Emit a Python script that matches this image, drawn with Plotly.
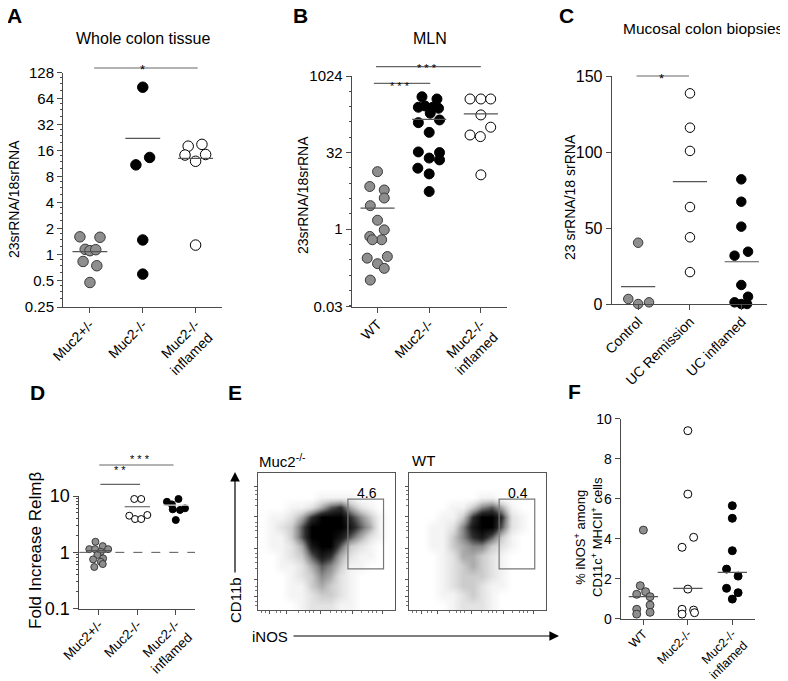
import math
import plotly.graph_objects as go

# ---------------- data ----------------
# Panel A  (Whole colon tissue, 23srRNA/18srRNA)
A_cats = ["Muc2+/-", "Muc2-/-", "Muc2-/-<br>inflamed"]
A_het = [1.62, 1.60, 1.16, 1.12, 1.15, 0.84, 0.75, 0.48]
A_ko = [87, 11, 13.4, 1.49, 0.60]
A_inf = [18.1, 19.0, 14.3, 14.5, 12.1, 1.3]
A_lines = [1.09, 22.3, 13.1]

# Panel B  (MLN)
B_cats = ["WT", "Muc2-/-", "Muc2-/-<br>inflamed"]
B_wt = [13.5, 6.9, 5.9, 4.1, 2.9, 1.5, 0.97, 0.72, 0.62, 0.62, 0.27, 0.29, 0.21, 0.17, 0.10]
B_ko = [400, 362, 249, 264, 249, 238, 190, 124, 140, 80, 33, 32, 25, 23, 15.8, 12.2, 5.5]
B_inf = [362, 362, 362, 176, 101, 71, 66, 11.7]
B_lines = [2.6, 144, 184]

# Panel C  (Mucosal colon biopsies)
C_cats = ["Control", "UC Remission", "UC inflamed"]
C_ctrl = [40.3, 3.3, 0.0, 1.1]
C_rem = [138.6, 116, 100.7, 63.8, 43.9, 21]
C_inf = [82, 67.3, 50.9, 31.8, 34.4, 12.5, 1.1, 4.8, 0.0, 0.0]
C_lines = [11.4, 80.5, 27.8]

# Panel D  (Fold increase Relm beta)
D_cats = ["Muc2+/-", "Muc2-/-", "Muc2-/-<br>inflamed"]
D_het = [1.54, 1.29, 1.14, 1.14, 1.14, 1.02, 0.90, 0.78, 0.75, 0.68, 0.55, 0.62]
D_ko = [8.85, 8.85, 4.47, 3.9, 3.9, 4.6]
D_inf = [10.4, 7.9, 8.85, 7.1, 6.05, 5.8, 5.65, 3.75]
D_lines = [1.07, 6.45, 6.9]

# Panel F  (% iNOS+ among CD11c+ MHCII+ cells)
F_cats = ["WT", "Muc2-/-", "Muc2-/-<br>inflamed"]
F_wt = [4.43, 1.65, 1.22, 1.35, 1.10, 0.68, 0.47, 0.23, 0.32]
F_ko = [9.4, 6.23, 4.07, 3.57, 1.48, 0.47, 0.23, 0.43, 0.30]
F_inf = [5.65, 5.02, 3.4, 2.48, 2.13, 1.52, 1.30, 0.98]
F_lines = [1.10, 1.52, 2.32]

# Panel E  flow density (rows top -> bottom, columns iNOS low -> high), 0..9
E_muc2_density = [
    [0, 0, 0, 0, 0, 0, 0, 0, 0, 0, 0, 0, 0, 0],
    [0, 0, 0, 0, 0, 0, 0, 0, 0, 0, 0, 0, 0, 0],
    [0, 0, 0, 0, 0, 0, 1, 1, 1, 1, 0, 0, 0, 0],
    [0, 0, 0, 1, 1, 2, 4, 6, 7, 4, 2, 1, 0, 0],
    [0, 1, 1, 2, 4, 7, 9, 9, 9, 7, 5, 3, 1, 0],
    [0, 1, 2, 3, 6, 9, 9, 9, 9, 8, 6, 4, 1, 0],
    [0, 1, 1, 3, 6, 9, 9, 9, 8, 6, 4, 2, 1, 0],
    [0, 1, 1, 2, 4, 8, 9, 9, 6, 3, 2, 1, 0, 0],
    [0, 0, 1, 2, 3, 6, 8, 7, 4, 2, 1, 1, 0, 0],
    [0, 0, 1, 1, 2, 4, 6, 5, 3, 1, 1, 0, 0, 0],
    [0, 0, 0, 1, 2, 3, 5, 4, 2, 1, 0, 0, 0, 0],
    [0, 0, 0, 1, 1, 3, 4, 3, 2, 1, 0, 0, 0, 0],
    [0, 0, 0, 1, 1, 2, 3, 3, 2, 1, 0, 0, 0, 0],
    [0, 0, 0, 0, 1, 2, 2, 2, 1, 1, 0, 0, 0, 0],
]
E_wt_density = [
    [0, 0, 0, 0, 0, 0, 0, 0, 0, 0, 0, 0, 0, 0],
    [0, 0, 0, 0, 0, 0, 0, 0, 0, 0, 0, 0, 0, 0],
    [0, 0, 0, 0, 0, 0, 0, 1, 1, 0, 0, 0, 0, 0],
    [0, 0, 0, 0, 1, 1, 3, 5, 6, 4, 1, 0, 0, 0],
    [0, 0, 0, 1, 1, 3, 7, 9, 9, 7, 2, 1, 0, 0],
    [0, 0, 1, 1, 2, 5, 8, 9, 9, 6, 2, 1, 0, 0],
    [0, 0, 1, 1, 3, 5, 7, 8, 6, 3, 1, 0, 0, 0],
    [0, 0, 1, 1, 3, 4, 5, 5, 3, 2, 1, 0, 0, 0],
    [0, 0, 0, 1, 2, 4, 4, 3, 2, 1, 0, 0, 0, 0],
    [0, 0, 0, 1, 2, 3, 4, 3, 2, 1, 0, 0, 0, 0],
    [0, 0, 0, 1, 2, 3, 3, 3, 2, 1, 0, 0, 0, 0],
    [0, 0, 0, 1, 2, 3, 3, 2, 1, 1, 0, 0, 0, 0],
    [0, 0, 0, 1, 1, 2, 3, 2, 1, 0, 0, 0, 0, 0],
    [0, 0, 0, 0, 1, 2, 2, 2, 1, 0, 0, 0, 0, 0],
]
E_gate_values = ["4.6", "0.4"]

# ---------------- layout helpers (positions / jitter) ----------------
A_jit = [[-0.19, 0.19, -0.09, 0.0, 0.11, -0.13, 0.13, 0.0],
         [0.0, -0.13, 0.13, 0.0, 0.0],
         [-0.14, 0.12, -0.2, 0.19, 0.0, 0.0]]
B_jit = [[0, -0.15, 0.13, 0.13, -0.14, 0, 0.13, -0.15, 0.08, -0.1, -0.2, 0.19, 0, 0.13, -0.14],
         [-0.14, 0.15, -0.21, -0.08, 0.07, 0.18, 0.02, -0.21, 0.2, 0, -0.21, 0.2, 0, 0.2, -0.22, 0, 0],
         [-0.21, 0, 0.19, 0, 0.19, -0.21, -0.01, 0]]
C_jit = [[0, -0.19, 0, 0.21],
         [0, 0, 0, 0, 0, 0],
         [-0.01, -0.01, -0.01, -0.14, 0.12, -0.01, -0.14, 0.12, -0.01, 0.1]]
D_jit = [[-0.09, 0.1, -0.25, -0.1, 0.24, 0.05, -0.04, 0.11, -0.15, 0.05, -0.12, 0.1],
         [-0.08, 0.1, -0.21, -0.06, 0.1, 0.26],
         [0, -0.23, 0.07, -0.1, 0.24, -0.08, 0.11, 0]]
F_jit = [[0, -0.07, -0.15, 0.05, 0.15, 0.15, -0.15, -0.15, 0.15],
         [0, 0, 0.13, -0.13, 0, -0.13, -0.13, 0.13, 0.15],
         [0, 0, 0, -0.13, 0.13, -0.13, 0.13, 0]]

W, H = 788, 681
OFF = 8  # page body margin in the viewer
FONT = "Liberation Sans, Arial, Helvetica, sans-serif"
AX = "#4a4a4a"


def fx(p):
    return (p - OFF) / W


def fy(p):
    return 1 - (p - OFF) / H


STY = {
    "gray": dict(color="#8e8e8e", line=dict(color="#3a3a3a", width=1)),
    "black": dict(color="black", line=dict(color="black", width=1)),
    "open": dict(color="white", line=dict(color="black", width=1)),
}

fig = go.Figure()


def add_panel(xa, ya, groups, jits, lines, kinds, msize, half=0.33, lcols=None):
    for i, (vals, jit, kind) in enumerate(zip(groups, jits, kinds)):
        fig.add_trace(go.Scatter(
            x=[i + j for j in jit], y=vals, mode="markers", xaxis=xa, yaxis=ya,
            marker=dict(size=msize, **STY[kind]), cliponaxis=False, hoverinfo="skip"))
    for i, m in enumerate(lines):
        col = lcols[i] if lcols else "#555555"
        fig.add_trace(go.Scatter(
            x=[i - half, i + half], y=[m, m], mode="lines", xaxis=xa, yaxis=ya,
            line=dict(color=col, width=1.2), cliponaxis=False, hoverinfo="skip"))


add_panel("x", "y", [A_het, A_ko, A_inf], A_jit, A_lines, ["gray", "black", "open"], 10.5)
add_panel("x2", "y2", [B_wt, B_ko, B_inf], B_jit, B_lines, ["gray", "black", "open"], 10)
add_panel("x3", "y3", [C_ctrl, C_rem, C_inf], C_jit, C_lines, ["gray", "open", "black"], 9.5)
add_panel("x4", "y4", [D_het, D_ko, D_inf], D_jit, D_lines, ["gray", "open", "black"], 7,
          lcols=["#555555", "#555555", "#dddddd"])
add_panel("x7", "y7", [F_wt, F_ko, F_inf], F_jit, F_lines, ["gray", "open", "black"], 8)

# flow density heatmaps
n = len(E_muc2_density)
centres = [(k + 0.5) / n for k in range(n)]
cscale = [[0, "#ffffff"], [0.11, "#f4f4f4"], [0.22, "#e3e3e3"], [0.33, "#cdcdcd"],
          [0.55, "#8c8c8c"], [0.78, "#2e2e2e"], [1, "#000000"]]
for xa, ya, dens in [("x5", "y5", E_muc2_density), ("x6", "y6", E_wt_density)]:
    fig.add_trace(go.Heatmap(
        z=dens[::-1], x=centres, y=centres, xaxis=xa, yaxis=ya, colorscale=cscale,
        zmin=0, zmax=9, zsmooth="best", showscale=False, hoverinfo="skip"))


def xcat(dom, labels, rng, size, anchor, standoff=0):
    return dict(domain=[fx(dom[0]), fx(dom[1])], anchor=anchor, range=rng,
                tickmode="array", tickvals=list(range(len(labels))), ticktext=labels,
                tickangle=-45, showline=True, linecolor=AX, linewidth=1,
                ticks="outside", ticklen=5, tickwidth=1, tickcolor=AX,
                showgrid=False, zeroline=False, fixedrange=True, automargin=False,
                ticklabelstandoff=standoff,
                tickfont=dict(size=size, color="black", family=FONT))


def yax(dom, anchor, size, **kw):
    d = dict(domain=[fy(dom[1]), fy(dom[0])], anchor=anchor, showline=True,
             linecolor=AX, linewidth=1, ticks="outside", ticklen=5, tickwidth=1,
             tickcolor=AX, showgrid=False, zeroline=False, fixedrange=True,
             automargin=False,
             tickfont=dict(size=size, color="black", family=FONT))
    d.update(kw)
    return d


A_ticks = [0.25, 0.5, 1, 2, 4, 8, 16, 32, 64, 128]
A_minor = [v * f for v in A_ticks[:-1] for f in (1.25, 1.5, 1.75)]
B_ticks = [0.03, 1, 32, 1024]
B_minor = [2 ** k for k in range(-5, 10) if 2 ** k not in (1, 32)]
D_ticks = [0.1, 1, 10]
D_minor = [m * d for d in (0.1, 1) for m in range(2, 10)]

flow_major = [0.1, 0.22, 0.45, 0.68, 0.9]
flow_minor = [0.03, 0.06, 0.14, 0.17, 0.3, 0.35, 0.38, 0.41, 0.53, 0.58, 0.61, 0.64,
              0.76, 0.81, 0.84, 0.87]
flow_x_major = [0.09, 0.21, 0.46, 0.69, 0.91]


def flowax(dom_x, dom_y, anchor, is_x):
    dom = dom_x if is_x else dom_y
    d = dict(anchor=anchor, range=[0, 1], showline=True, mirror=True, linecolor="#555",
             linewidth=1, ticks="outside", ticklen=3, tickwidth=1, tickcolor="#555",
             tickvals=flow_x_major if is_x else flow_major, showticklabels=False,
             showgrid=False, zeroline=False, fixedrange=True, automargin=False,
             minor=dict(tickvals=flow_minor, ticklen=2, ticks="outside", tickcolor="#777"))
    if is_x:
        d["domain"] = [fx(dom[0]), fx(dom[1])]
    else:
        d["domain"] = [fy(dom[1]), fy(dom[0])]
    return d


fig.update_layout(
    width=W, height=H, margin=dict(l=0, r=0, t=0, b=0, autoexpand=False), autosize=False,
    paper_bgcolor="white", plot_bgcolor="rgba(0,0,0,0)", showlegend=False,
    font=dict(family=FONT, color="black"), hovermode=False,
    xaxis=xcat((63, 222), A_cats, [-0.51, 2.5], 14, "y", -2),
    yaxis=yax((72.7, 307), "x", 15, type="log",
              range=[math.log10(0.25), math.log10(128)], tickmode="array",
              tickvals=A_ticks, ticktext=[str(v) for v in A_ticks],
              minor=dict(tickvals=A_minor, ticklen=2, ticks="outside", tickcolor=AX)),
    xaxis2=xcat((351.7, 506.7), B_cats, [-0.5, 2.5], 14, "y2", -2),
    yaxis2=yax((76, 306.7), "x2", 15, type="log",
               range=[math.log10(0.03), math.log10(1024)], tickmode="array",
               tickvals=B_ticks, ticktext=[str(v) for v in B_ticks],
               minor=dict(tickvals=B_minor, ticklen=2, ticks="outside", tickcolor=AX)),
    xaxis3=xcat((611.7, 766.7), C_cats, [-0.51, 2.48], 14, "y3", -2),
    yaxis3=yax((76, 304), "x3", 16, range=[0, 150], tickmode="array",
               tickvals=[0, 50, 100, 150]),
    xaxis4=xcat((79.3, 195), D_cats, [-0.51, 2.5], 13.5, "y4", -3),
    yaxis4=yax((496, 608.7), "x4", 18, type="log", range=[-1, 1], tickmode="array",
               tickvals=D_ticks, ticktext=["0.1", "1", "10"],
               minor=dict(tickvals=D_minor, ticklen=2, ticks="outside", tickcolor=AX)),
    xaxis5=flowax((257.5, 394.5), (473, 610), "y5", True),
    yaxis5=flowax((257.5, 394.5), (473, 610), "x5", False),
    xaxis6=flowax((408.7, 545.7), (473, 610), "y6", True),
    yaxis6=flowax((408.7, 545.7), (473, 610), "x6", False),
    xaxis7=xcat((620.7, 755), F_cats, [-0.51, 2.51], 12.5, "y7", -3),
    yaxis7=yax((418.7, 618.7), "x7", 14, range=[0, 10], tickmode="array",
               tickvals=[0, 2, 4, 6, 8, 10]),
)

shapes = []
anns = []


def sig(xref, x0, x1, ypx, text, tx, typx, size=13):
    shapes.append(dict(type="line", xref=xref, yref="paper", x0=x0, x1=x1,
                       y0=fy(ypx), y1=fy(ypx), line=dict(color="#666", width=1.2)))
    anns.append(dict(xref=xref, yref="paper", x=tx, y=fy(typx), text=text,
                     showarrow=False, font=dict(size=size, color="black")))


sig("x", 0.08, 2.04, 68, "*", 1.0, 60)
sig("x2", -0.07, 1.02, 83.3, "* * *", 0.43, 78, 11)
sig("x2", -0.03, 2.0, 66.7, "* * *", 0.95, 60, 11)
sig("x3", -0.03, 0.98, 76, "*", 0.45, 69)
sig("x4", 0.04, 1.07, 484.3, "* *", 0.55, 478, 11)
sig("x4", 0.01, 1.94, 465, "* * *", 1.07, 459, 11)

# dashed reference line in D
shapes.append(dict(type="line", xref="x4 domain", yref="y4", x0=0, x1=1, y0=1, y1=1,
                   line=dict(color="#555", width=1, dash="dash")))

# gates in E
for xr, yr, lab in [("x5", "y5", E_gate_values[0]), ("x6", "y6", E_gate_values[1])]:
    shapes.append(dict(type="rect", xref=xr, yref=yr, x0=0.66, x1=0.92, y0=0.30, y1=0.81,
                       line=dict(color="#777", width=1.2)))
    anns.append(dict(xref=xr, yref=yr, x=0.80, y=0.855, text=lab, showarrow=False,
                     font=dict(size=14, color="black")))


def txt(x, y, text, size, angle=0, bold=False, xanchor="center"):
    anns.append(dict(xref="paper", yref="paper", x=fx(x), y=fy(y),
                     text=("<b>%s</b>" % text) if bold else text, showarrow=False,
                     textangle=angle, xanchor=xanchor, yanchor="middle",
                     font=dict(size=size, color="black", family=FONT)))


# panel letters
for lab, x, y in [("A", 14, 16), ("B", 300, 16), ("C", 566, 16),
                  ("D", 37, 392), ("E", 235, 392), ("F", 574, 391)]:
    txt(x, y, lab, 21, bold=True)

# titles
txt(143, 38, "Whole colon tissue", 16)
txt(430, 38, "MLN", 16)
txt(786, 28, "Mucosal colon biopsies", 15.5, xanchor="right")

# y titles
txt(14, 199, "23srRNA/18srRNA", 14, angle=-90)
txt(303, 195, "23srRNA/18srRNA", 14, angle=-90)
txt(570, 197, "23 srRNA/18 srRNA", 14, angle=-90)
txt(35, 551, "Fold Increase Relmβ", 17, angle=-90)
txt(588, 537, "% iNOS<sup>+</sup> among<br>CD11c<sup>+</sup> MHCII<sup>+</sup> cells", 13, angle=-90)

# E labels
txt(257, 461, "Muc2<sup>-/-</sup>", 15, xanchor="left")
txt(410, 461, "WT", 15, xanchor="left")
txt(235, 600, "CD11b", 15, angle=-90)
txt(270, 636, "iNOS", 15)

# arrows
anns.append(dict(xref="paper", yref="paper", x=fx(235), y=fy(472), ax=0, ay=102,
                 axref="pixel", ayref="pixel", text="", showarrow=True, arrowhead=2,
                 arrowsize=1.6, arrowwidth=1.2, arrowcolor="black"))
anns.append(dict(xref="paper", yref="paper", x=fx(559), y=fy(636), ax=-267, ay=0,
                 axref="pixel", ayref="pixel", text="", showarrow=True, arrowhead=2,
                 arrowsize=1.6, arrowwidth=1.2, arrowcolor="black"))

fig.update_layout(shapes=shapes, annotations=anns)
fig.write_html("out.html")
